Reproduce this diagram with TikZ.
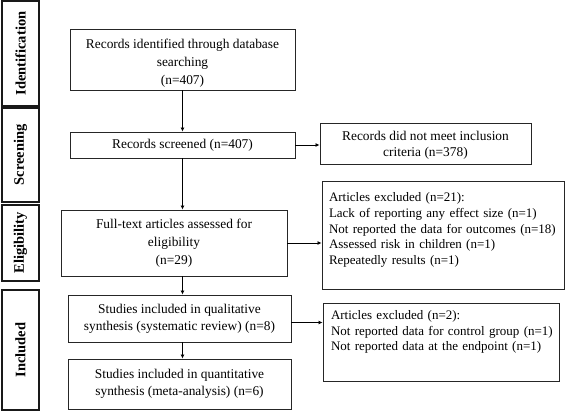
\documentclass[tikz,border=0pt]{standalone}
\usepackage{fontspec}
\setmainfont{Liberation Serif}
\usetikzlibrary{arrows.meta}
\begin{document}
\begin{tikzpicture}[x=1pt,y=-1pt,
  box/.style={draw=black!85,line width=0.9pt,inner sep=0pt,align=center,font=\fontsize{13.4}{18}\selectfont},
  lbox/.style={draw=black!85,line width=0.9pt,inner ysep=0pt,inner xsep=7pt,align=left,font=\fontsize{13}{15.7}\selectfont},
  side/.style={draw=black!90,line width=2pt,inner sep=0pt,minimum width=37pt,font=\bfseries\fontsize{14.5}{16}\selectfont},
  conn/.style={line width=0.9pt,-{Latex[length=4pt,width=4pt]}}]
\useasboundingbox (0,0) rectangle (566,412);
% side labels
\node[side,minimum height=105pt] (sid) at (20.5,53.5) {\rotatebox{90}{Identification}};
\node[side,minimum height=94pt] (ssc) at (20.5,155) {\rotatebox{90}{Screening}};
\node[side,minimum height=76pt] (sel) at (20.5,243) {\rotatebox{90}{Eligibility}};
\node[side,minimum height=120pt] (sin) at (20.5,350) {\rotatebox{90}{Included}};
% main boxes
\node[box,minimum width=225pt,minimum height=61pt] (b1) at (182.5,59.5)
  {\rule{0pt}{16.5pt}Records identified through database\\searching\\(n=407)};
\node[box,minimum width=225pt,minimum height=26pt] (b2) at (182.5,145)
  {Records screened (n=407)};
\node[box,minimum width=226pt,minimum height=66pt] (b3) at (174,243)
  {Full-text articles assessed for\\eligibility\\(n=29)};
\node[box,minimum width=223pt,minimum height=47pt,font=\fontsize{13.4}{17}\selectfont] (b4) at (179.5,318.5)
  {Studies included in qualitative\\synthesis (systematic review) (n=8)};
\node[box,minimum width=223pt,minimum height=50pt,font=\fontsize{13.4}{17}\selectfont] (b5) at (179.5,384)
  {Studies included in quantitative\\synthesis (meta-analysis) (n=6)};
% right boxes
\node[box,minimum width=211pt,minimum height=41pt,font=\fontsize{13.4}{16}\selectfont] (r1) at (425.5,143.5)
  {\rule{0pt}{12.5pt}Records did not meet inclusion\\criteria (n=378)};
\node[lbox,text width=228pt,minimum height=108pt] (r2) at (443,235)
  {\begin{tabular}{@{}l@{}}Articles excluded (n=21):\\Lack of reporting any effect size (n=1)\\Not reported the data for outcomes (n=18)\\Assessed risk in children (n=1)\\Repeatedly results (n=1)\\[10pt]\end{tabular}};
\node[lbox,text width=222pt,minimum height=78pt] (r3) at (441,342)
  {\hspace*{1pt}\begin{tabular}{@{}l@{}}Articles excluded (n=2):\\Not reported data for control group (n=1)\\Not reported data at the endpoint (n=1)\\[20pt]\end{tabular}};
\coordinate (b4out) at ([yshift=-4pt]b4.east);
% connectors
\draw[conn] (b1.south) -- (b2.north);
\draw[conn] (b2.south) -- (b2.south |- b3.north);
\draw[conn] (b2.south |- b3.south) -- (b2.south |- b4.north);
\draw[conn] (b2.south |- b4.south) -- (b2.south |- b5.north);
\draw[conn] (b2.east) -- (r1.west |- b2.east);
\draw[conn] (b3.east) -- (r2.west |- b3.east);
\draw[conn] (b4out) -- (r3.west |- b4out);
\end{tikzpicture}
\end{document}
